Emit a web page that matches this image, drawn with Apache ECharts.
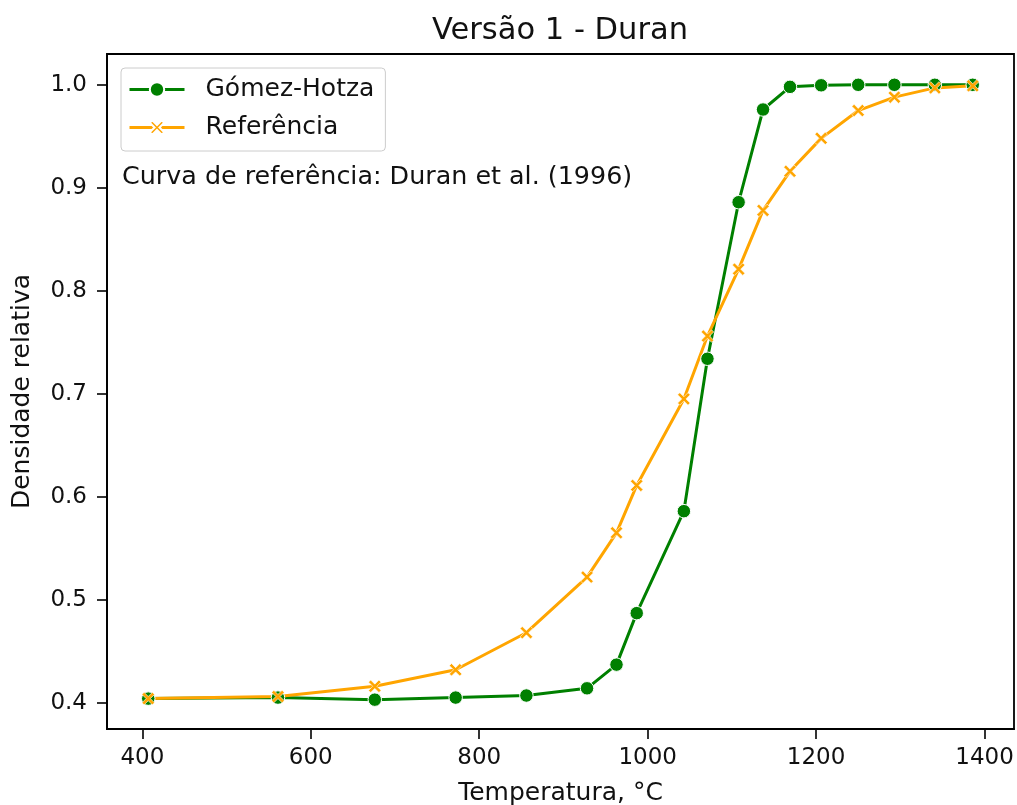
<!DOCTYPE html>
<html>
<head>
<meta charset="utf-8">
<title>Versão 1 - Duran</title>
<script src="https://cdn.jsdelivr.net/npm/echarts@6/dist/echarts.min.js"></script>
<style>
  html, body { margin: 0; padding: 0; background: #fff; }
  #chart { width: 1017px; height: 805px; }
</style>
</head>
<body>
<div id="chart"></div>
<script>
// Sintering temperatures (°C)
const temperatures = [407, 561, 676, 772, 856, 928, 963, 987, 1043, 1071, 1108, 1137, 1169, 1206, 1250, 1293, 1341, 1386];
// Relative density predicted by the Gómez-Hotza model
const gomezHotza = [0.404, 0.405, 0.403, 0.405, 0.407, 0.414, 0.437, 0.487, 0.586, 0.734, 0.886, 0.976, 0.998, 0.9995, 1.0, 1.0, 1.0, 1.0];
// Reference curve, Duran et al. (1996)
const referencia = [0.404, 0.406, 0.416, 0.432, 0.468, 0.522, 0.565, 0.611, 0.695, 0.756, 0.821, 0.878, 0.916, 0.948, 0.975, 0.988, 0.997, 0.999];
// Tick labels
const xTicks = [400, 600, 800, 1000, 1200, 1400];
const yTicks = [0.4, 0.5, 0.6, 0.7, 0.8, 0.9, 1.0];

const FONT = 'DejaVu Sans';
const TEXT = '#111';
const GREEN = '#008000';
const ORANGE = '#ffa500';
// "x" marker drawn as a filled cross
const crossPath = 'path://M0,1.7L1.7,0L5,3.3L8.3,0L10,1.7L6.7,5L10,8.3L8.3,10L5,6.7L1.7,10L0,8.3L3.3,5Z';

const pairs = (ys) => temperatures.map((t, i) => [t, ys[i]]);

const chart = echarts.init(document.getElementById('chart'), null, { renderer: 'canvas' });

chart.setOption({
  backgroundColor: '#fff',
  animation: false,
  textStyle: { fontFamily: FONT },
  title: {
    text: 'Versão 1 - Duran',
    left: 560,
    top: 16,
    padding: 0,
    textAlign: 'center',
    textStyle: { fontFamily: FONT, fontSize: 30.5, fontWeight: 'normal', color: TEXT }
  },
  grid: {
    left: 107, right: 3, top: 54, bottom: 76,
    outerBoundsMode: 'none',
    containLabel: false,
    show: true, borderColor: '#000', borderWidth: 1.8, backgroundColor: 'transparent'
  },
  legend: {
    orient: 'vertical',
    left: 121, top: 68,
    padding: [9, 11, 11, 7],
    itemWidth: 55, itemHeight: 18, itemGap: 13,
    backgroundColor: 'rgba(255,255,255,0.8)',
    borderColor: '#cccccc', borderWidth: 1, borderRadius: 4,
    lineStyle: { width: 3 },
    textStyle: { fontFamily: FONT, fontSize: 25, color: TEXT, padding: [0, 0, 0, 16] },
    data: ['Gómez-Hotza', 'Referência']
  },
  xAxis: {
    type: 'value',
    min: 358, max: 1435,
    name: 'Temperatura, °C',
    nameLocation: 'middle',
    nameGap: 52,
    nameTextStyle: { fontFamily: FONT, fontSize: 25, color: TEXT },
    splitLine: { show: false },
    axisLine: { show: true, lineStyle: { color: '#000', width: 1.8 } },
    axisTick: { show: true, length: 10, lineStyle: { color: '#000', width: 1.6 }, customValues: xTicks },
    axisLabel: {
      fontFamily: FONT, fontSize: 23, color: TEXT, margin: 18, customValues: xTicks,
      formatter: (v) => String(v)
    }
  },
  yAxis: {
    type: 'value',
    min: 0.3745, max: 1.0299,
    name: 'Densidade relativa',
    nameLocation: 'middle',
    nameGap: 72,
    nameRotate: 90,
    nameTextStyle: { fontFamily: FONT, fontSize: 25, color: TEXT },
    splitLine: { show: false },
    axisLine: { show: true, lineStyle: { color: '#000', width: 1.8 } },
    axisTick: { show: true, length: 10, lineStyle: { color: '#000', width: 1.6 }, customValues: yTicks },
    axisLabel: {
      fontFamily: FONT, fontSize: 23, color: TEXT, margin: 20, customValues: yTicks,
      formatter: (v) => v.toFixed(1)
    }
  },
  graphic: [{
    type: 'text',
    left: 122,
    top: 165,
    style: {
      text: 'Curva de referência: Duran et al. (1996)',
      font: '25.4px "DejaVu Sans"',
      fill: TEXT
    }
  }],
  series: [
    {
      name: 'Gómez-Hotza',
      type: 'line',
      data: pairs(gomezHotza),
      symbol: 'circle',
      symbolSize: 13.5,
      showAllSymbol: true,
      lineStyle: { color: GREEN, width: 3 },
      itemStyle: { color: GREEN, borderColor: '#fff', borderWidth: 1 }
    },
    {
      name: 'Referência',
      type: 'line',
      data: pairs(referencia),
      symbol: crossPath,
      symbolSize: 12.5,
      showAllSymbol: true,
      lineStyle: { color: ORANGE, width: 3 },
      itemStyle: { color: ORANGE, borderColor: '#fff', borderWidth: 0.6 }
    }
  ]
});
</script>
</body>
</html>
